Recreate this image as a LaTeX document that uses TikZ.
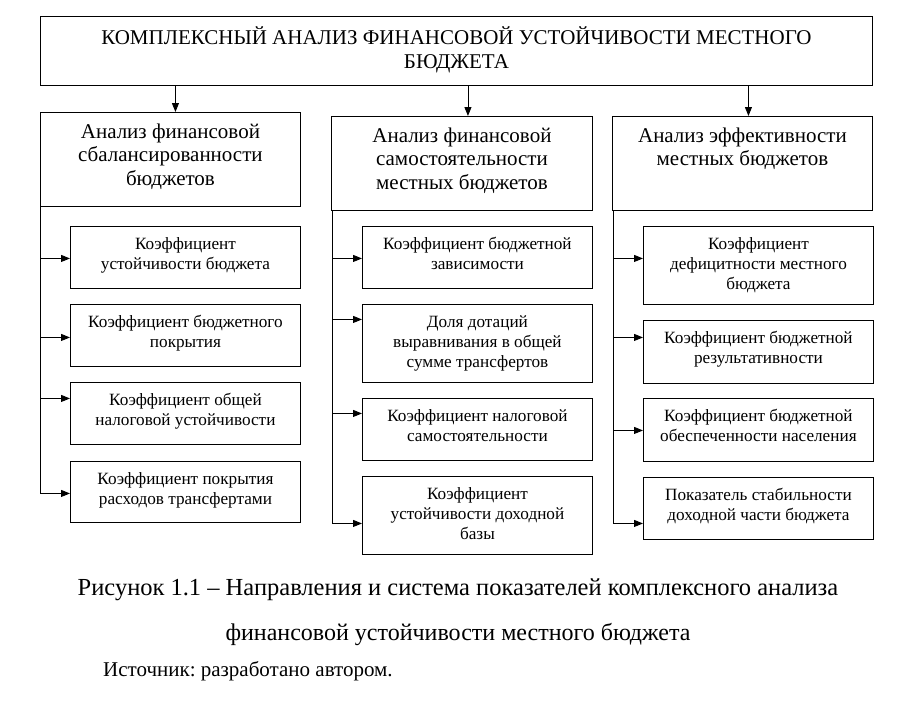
\documentclass[tikz,border=0pt]{standalone}
\usepackage{fontspec}
\setmainfont{Liberation Serif}
\usetikzlibrary{arrows.meta}
\frenchspacing
\newcommand\cellbox[4]{\parbox[c][#2][t]{#1}{\centering\vspace*{#3}\strut #4\par}}
\newcommand\titlefont{\fontsize{21}{24}\selectfont}
\newcommand\headfont{\fontsize{21}{23.5}\selectfont}
\newcommand\itemfont{\fontsize{17.2}{20}\selectfont}
\begin{document}
\begin{tikzpicture}[x=1pt,y=-1pt,
  boxs/.style={draw, line width=0.9pt, inner sep=0pt, anchor=north west},
  arr/.style={-{Triangle[length=9pt,width=7pt]}, line width=0.9pt},
  ln/.style={line width=0.9pt}]
\useasboundingbox[fill=white] (0,0) rectangle (910,712);
% top
\node[boxs] (top) at (40,16) {\titlefont\cellbox{832pt}{69pt}{10pt}{КОМПЛЕКСНЫЙ АНАЛИЗ ФИНАНСОВОЙ УСТОЙЧИВОСТИ МЕСТНОГО\\БЮДЖЕТА}};
% headers
\node[boxs] (h1) at (40,112) {\headfont\cellbox{260pt}{94pt}{9.5pt}{Анализ финансовой\\сбалансированности\\бюджетов}};
\node[boxs] (h2) at (331,116) {\headfont\cellbox{261pt}{94pt}{9.5pt}{Анализ финансовой\\самостоятельности\\местных бюджетов}};
\node[boxs] (h3) at (612,116) {\headfont\cellbox{260pt}{94pt}{9.5pt}{Анализ эффективности\\местных бюджетов}};
% column 1
\node[boxs] (c11) at (70,226) {\itemfont\cellbox{230pt}{62pt}{9pt}{Коэффициент\\устойчивости бюджета}};
\node[boxs] (c12) at (70,304) {\itemfont\cellbox{230pt}{62pt}{9pt}{Коэффициент бюджетного\\покрытия}};
\node[boxs] (c13) at (70,382) {\itemfont\cellbox{230pt}{62pt}{9pt}{Коэффициент общей\\налоговой устойчивости}};
\node[boxs] (c14) at (70,461) {\itemfont\cellbox{230pt}{61pt}{9pt}{Коэффициент покрытия\\расходов трансфертами}};
% column 2
\node[boxs] (c21) at (362,226) {\itemfont\cellbox{230pt}{62pt}{9pt}{Коэффициент бюджетной\\зависимости}};
\node[boxs] (c22) at (362,304) {\itemfont\cellbox{230pt}{78pt}{9pt}{Доля дотаций\\выравнивания в общей\\сумме трансфертов}};
\node[boxs] (c23) at (362,398) {\itemfont\cellbox{230pt}{62pt}{9pt}{Коэффициент налоговой\\самостоятельности}};
\node[boxs] (c24) at (362,476) {\itemfont\cellbox{230pt}{78pt}{9pt}{Коэффициент\\устойчивости доходной\\базы}};
% column 3
\node[boxs] (c31) at (643,226) {\itemfont\cellbox{230pt}{78pt}{9pt}{Коэффициент\\дефицитности местного\\бюджета}};
\node[boxs] (c32) at (643,320) {\itemfont\cellbox{230pt}{63pt}{9pt}{Коэффициент бюджетной\\результативности}};
\node[boxs] (c33) at (643,398) {\itemfont\cellbox{230pt}{63pt}{9pt}{Коэффициент бюджетной\\обеспеченности населения}};
\node[boxs] (c34) at (643,477) {\itemfont\cellbox{230pt}{62pt}{9pt}{Показатель стабильности\\доходной части бюджета}};
% top arrows
\coordinate (h1a) at ([xshift=5pt]h1.north);
\coordinate (h2a) at ([xshift=6pt]h2.north);
\coordinate (h3a) at ([xshift=6pt]h3.north);
\draw[arr] (top.south -| h1a) -- (h1a);
\draw[arr] (top.south -| h2a) -- (h2a);
\draw[arr] (top.south -| h3a) -- (h3a);
% arrow targets
\coordinate (a11) at ([yshift=-1pt]c11.west);
\coordinate (a12) at ([yshift=-2pt]c12.west);
\coordinate (a13) at ([yshift=15pt]c13.west);
\coordinate (a14) at ([yshift=-1.5pt]c14.west);
\coordinate (a21) at ([yshift=-1pt]c21.west);
\coordinate (a22) at ([yshift=24pt]c22.west);
\coordinate (a23) at ([yshift=16pt]c23.west);
\coordinate (a24) at ([yshift=-8pt]c24.west);
\coordinate (a31) at ([yshift=7pt]c31.west);
\coordinate (a32) at ([yshift=14.5pt]c32.west);
\coordinate (a33) at ([yshift=-0.5pt]c33.west);
\coordinate (a34) at ([yshift=-15pt]c34.west);
% trunks
\draw[ln] (h1.south west) -- (h1.south west |- a14);
\draw[ln] ([xshift=1pt]h2.south west) -- ([xshift=1pt]h2.south west |- a24);
\draw[ln] ([xshift=1pt]h3.south west) -- ([xshift=1pt]h3.south west |- a34);
\foreach \k in {1,2,3,4}{
  \draw[arr] (h1.south west |- a1\k) -- (a1\k);
  \draw[arr] ([xshift=1pt]h2.south west |- a2\k) -- (a2\k);
  \draw[arr] ([xshift=1pt]h3.south west |- a3\k) -- (a3\k);
}
% caption
\node[anchor=base, inner sep=0pt, font=\fontsize{24.5}{28}\selectfont] (cap1) at (458,595) {Рисунок 1.1 – Направления и система показателей комплексного анализа};
\node[anchor=base, inner sep=0pt, font=\fontsize{24}{28}\selectfont] (cap2) at (458,640) {финансовой устойчивости местного бюджета};
\node[anchor=base west, inner sep=0pt, font=\fontsize{21}{24}\selectfont] (src) at (103,676) {Источник: разработано автором.};
\end{tikzpicture}
\end{document}
